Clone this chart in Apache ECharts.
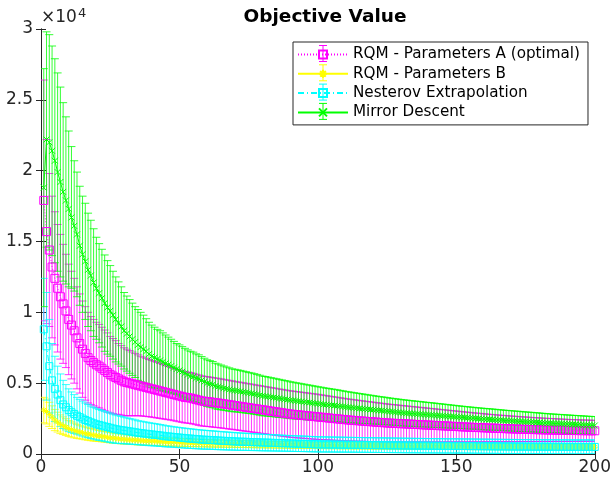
<!DOCTYPE html>
<html>
<head>
<meta charset="utf-8">
<script src="https://cdn.jsdelivr.net/npm/echarts@6/dist/echarts.min.js"></script>
<style>html,body{margin:0;padding:0;background:#fff}#chart{width:614px;height:482px}</style>
</head>
<body>
<div id="chart"></div>
<script>
// Objective value per iteration (raw values; axis shows them in units of 10^4)
const seriesNames = ['RQM - Parameters A (optimal)', 'RQM - Parameters B', 'Nesterov Extrapolation', 'Mirror Descent'];
const xTicks = [0, 50, 100, 150, 200];
const yTickLabels = ['0', '0.5', '1', '1.5', '2', '2.5', '3'];

const rqmAMean = [
17900,15700,14400,13200,12400,11700,11100,10600,10100,9500,
9100,8700,8200,7800,7400,7100,6800,6600,6450,6300,
6200,6050,5900,5750,5600,5500,5400,5300,5200,5100,
5050,5000,4950,4900,4850,4800,4750,4700,4650,4600,
4550,4500,4450,4400,4350,4300,4250,4200,4150,4100,
4050,4000,3980,3950,3900,3850,3800,3750,3720,3700,
3680,3650,3620,3600,3570,3540,3510,3480,3450,3420,
3390,3360,3330,3300,3270,3240,3210,3180,3150,3120,
3090,3060,3030,3000,2970,2940,2910,2880,2850,2820,
2800,2780,2760,2740,2720,2700,2680,2660,2640,2620,
2600,2580,2560,2540,2520,2500,2480,2460,2440,2420,
2400,2385,2370,2355,2340,2325,2310,2295,2280,2265,
2250,2235,2220,2205,2190,2180,2170,2160,2150,2140,
2130,2120,2110,2100,2090,2080,2070,2060,2050,2040,
2030,2020,2010,2000,1990,1980,1970,1960,1950,1940,
1930,1920,1910,1900,1890,1880,1870,1865,1860,1850,
1840,1830,1825,1820,1810,1800,1795,1790,1780,1775,
1770,1760,1755,1750,1745,1740,1730,1725,1720,1715,
1710,1705,1700,1695,1690,1685,1680,1675,1670,1665,
1660,1660,1655,1655,1650,1650,1645,1645,1640,1640];
const rqmAStd = [
8500,6500,5400,5000,4700,4500,4400,4200,4000,3900,
3800,3700,3600,3500,3400,3300,3200,3100,3050,3000,
2950,2900,2850,2800,2700,2650,2600,2500,2450,2400,
2350,2300,2250,2200,2150,2100,2080,2050,2020,2000,
1980,1960,1940,1920,1900,1880,1860,1850,1840,1830,
1820,1810,1800,1800,1790,1780,1780,1770,1760,1760,
1750,1750,1740,1740,1730,1730,1720,1720,1710,1710,
1700,1700,1700,1690,1690,1690,1680,1680,1680,1670,
1670,1670,1660,1660,1660,1650,1650,1650,1640,1640,
1640,1630,1630,1620,1620,1610,1610,1600,1600,1590,
1580,1570,1560,1550,1540,1530,1520,1510,1500,1490,
1480,1470,1460,1450,1440,1430,1420,1410,1400,1390,
1380,1370,1360,1350,1340,1330,1320,1310,1300,1290,
1280,1270,1260,1250,1240,1230,1220,1210,1200,1190,
1180,1170,1160,1150,1140,1130,1120,1110,1100,1090,
1080,1070,1060,1050,1040,1030,1020,1010,1000,990,
980,970,960,950,940,935,930,920,910,900,
895,890,880,870,865,860,850,845,840,830,
825,820,815,810,805,800,795,790,785,780,
775,770,765,760,755,750,750,745,740,740];

const rqmBMean = [
3100,3000,2800,2600,2400,2250,2100,2000,1900,1800,
1730,1660,1600,1550,1500,1450,1410,1370,1330,1300,
1270,1240,1210,1180,1150,1125,1100,1080,1060,1040,
1020,1005,990,975,960,950,940,930,920,910,
900,890,880,870,860,850,842,835,828,820,
814,808,802,796,790,784,778,772,766,760,
756,750,745,740,735,730,726,722,718,714,
710,706,702,698,694,690,686,682,678,674,
670,666,662,658,654,650,646,642,638,634,
630,627,624,621,618,615,612,609,606,603,
600,598,596,594,592,590,588,586,584,582,
580,578,576,574,572,570,568,566,564,562,
560,558,556,554,552,550,548,546,544,542,
540,538,536,534,532,530,528,527,526,525,
524,523,522,521,520,519,518,517,516,515,
514,513,512,511,510,509,508,507,506,505,
504,503,502,501,500,499,498,497,496,495,
494,493,492,491,490,489,488,487,486,486,
485,485,484,484,483,483,482,482,481,481,
481,480,480,480,480,479,479,479,478,478];
const rqmBStd = [
900,880,850,800,750,700,660,620,590,560,
540,520,500,480,460,450,440,430,420,400,
390,380,375,370,365,360,350,345,340,335,
330,325,320,318,315,312,310,305,300,298,
295,292,290,288,285,282,280,278,276,274,
272,270,268,266,264,262,260,258,256,255,
254,253,252,251,250,249,248,247,246,245,
244,243,242,241,240,239,238,237,236,235,
234,233,232,231,230,229,228,227,226,225,
224,223,222,221,220,220,219,219,218,218,
217,217,216,216,215,215,214,214,213,213,
212,212,211,211,210,210,209,209,208,208,
207,207,206,206,205,205,205,204,204,204,
203,203,203,202,202,202,201,201,201,200,
200,200,200,199,199,199,198,198,198,198,
197,197,197,197,196,196,196,196,195,195,
195,195,194,194,194,194,193,193,193,193,
192,192,192,192,191,191,191,191,190,190,
190,190,190,189,189,189,189,188,188,188,
188,187,187,187,187,186,186,186,186,185];

const nesterovMean = [
8800,7600,6200,5200,4600,4200,3800,3500,3300,3100,
2950,2820,2700,2600,2500,2400,2320,2240,2170,2100,
2050,2000,1950,1900,1850,1800,1750,1720,1690,1660,
1630,1600,1570,1540,1500,1480,1450,1430,1400,1380,
1360,1340,1310,1290,1250,1240,1220,1200,1180,1160,
1140,1120,1100,1090,1070,1050,1040,1020,1010,1000,
990,980,970,950,940,930,920,910,900,890,
880,870,865,860,850,840,835,830,820,810,
805,800,790,785,780,770,765,760,750,745,
740,730,725,720,715,710,700,695,690,680,
678,675,672,670,668,665,662,660,658,655,
652,650,648,645,642,640,638,635,632,630,
628,625,622,620,618,615,612,610,608,605,
602,600,598,596,594,592,590,588,586,584,
582,580,578,576,574,572,570,570,570,570,
568,566,564,562,560,558,556,554,552,550,
548,546,544,542,540,538,536,534,532,530,
528,526,524,522,520,519,518,517,516,515,
514,513,512,511,510,509,508,507,506,505,
504,503,502,502,501,501,500,500,500,500];
const nesterovStd = [
3600,3800,3300,2600,2300,2000,1850,1700,1600,1500,
1430,1370,1300,1260,1230,1200,1170,1140,1120,1100,
1090,1070,1060,1050,1040,1020,1000,980,960,940,
920,900,890,870,850,840,830,820,810,800,
790,780,770,760,750,740,730,720,715,710,
705,700,695,690,685,680,675,670,665,660,
655,650,648,645,640,636,632,628,624,620,
616,612,608,604,600,597,594,591,588,585,
582,579,576,573,570,567,564,561,558,555,
553,551,549,547,545,543,541,539,537,535,
534,533,532,531,530,529,528,527,526,525,
524,523,522,521,520,520,519,519,518,518,
517,517,516,516,515,515,514,514,513,513,
512,512,511,511,510,510,509,509,508,508,
507,507,506,506,505,505,504,504,503,503,
503,502,502,502,501,501,501,500,500,500,
500,500,499,499,499,499,498,498,498,498,
498,497,497,497,497,497,496,496,496,496,
496,495,495,495,495,495,495,494,494,494,
494,494,494,493,493,493,493,493,493,492];

const mirrorMean = [
18800,22200,22000,21400,20700,19900,19200,18500,17900,17300,
16700,16100,15500,14700,14100,13600,13000,12600,12100,11700,
11350,11000,10650,10350,10100,9800,9500,9250,9000,8700,
8500,8300,8100,7900,7700,7550,7400,7250,7050,6900,
6800,6700,6600,6500,6400,6300,6200,6100,6000,5900,
5800,5700,5600,5500,5450,5350,5300,5200,5100,5000,
4950,4900,4800,4750,4700,4650,4600,4550,4500,4480,
4450,4420,4380,4350,4310,4280,4240,4200,4150,4100,
4080,4050,4020,3990,3960,3930,3900,3870,3840,3800,
3780,3750,3730,3700,3680,3650,3630,3600,3580,3550,
3530,3500,3480,3460,3440,3420,3400,3370,3350,3320,
3300,3280,3260,3240,3220,3200,3180,3160,3140,3120,
3100,3080,3060,3040,3020,3000,2980,2960,2940,2920,
2900,2885,2870,2855,2840,2825,2810,2795,2780,2765,
2750,2735,2720,2705,2690,2675,2660,2645,2630,2615,
2600,2585,2570,2555,2540,2525,2510,2495,2480,2465,
2450,2440,2430,2415,2400,2390,2375,2360,2350,2335,
2320,2310,2300,2285,2270,2260,2250,2240,2230,2215,
2200,2190,2180,2170,2160,2150,2140,2130,2120,2110,
2100,2090,2080,2070,2060,2050,2040,2030,2020,2010];
const mirrorStd = [
8400,7600,7600,7400,7200,7000,6700,6300,5900,5500,
5000,4600,4400,4200,4100,4100,4000,3900,3800,3600,
3500,3450,3400,3300,3200,3100,3000,2900,2800,2700,
2650,2600,2550,2500,2500,2450,2400,2300,2250,2200,
2150,2100,2100,2050,2000,1950,1900,1850,1800,1800,
1780,1760,1750,1750,1740,1720,1700,1680,1660,1650,
1640,1630,1610,1600,1580,1560,1540,1530,1510,1500,
1490,1480,1470,1460,1450,1440,1430,1420,1410,1400,
1390,1380,1370,1360,1350,1340,1330,1320,1310,1300,
1290,1280,1270,1260,1250,1240,1230,1220,1210,1200,
1190,1180,1170,1160,1150,1140,1130,1120,1110,1100,
1090,1080,1070,1060,1050,1040,1030,1020,1010,1000,
990,980,975,970,960,950,945,940,935,930,
925,920,910,905,900,895,890,880,875,870,
865,860,850,845,840,830,825,815,810,800,
795,790,785,780,775,770,765,760,760,755,
755,750,745,740,735,730,725,720,720,715,
715,710,705,700,700,695,690,685,680,680,
675,670,665,660,660,655,655,650,650,645,
645,640,640,640,635,635,630,630,630,630];

// iteration index 1..N
const iterations = rqmAMean.map((_, i) => i + 1);

const chart = echarts.init(document.getElementById('chart'), null, {renderer: 'canvas'});

const FONT = 'DejaVu Sans';
const AXC = '#262626';

function errRender(color) {
  return function (params, api) {
    const x = api.value(0), lo = api.value(1), hi = api.value(2);
    const p1 = api.coord([x, lo]), p2 = api.coord([x, hi]);
    const w = 4;
    const st = {stroke: color, lineWidth: 0.8, fill: null};
    return {
      type: 'group',
      children: [
        {type: 'line', shape: {x1: p1[0], y1: p1[1], x2: p2[0], y2: p2[1]}, style: st},
        {type: 'line', shape: {x1: p1[0] - w, y1: p1[1], x2: p1[0] + w, y2: p1[1]}, style: st},
        {type: 'line', shape: {x1: p2[0] - w, y1: p2[1], x2: p2[0] + w, y2: p2[1]}, style: st}
      ]
    };
  };
}

const specs = [
  {name: seriesNames[0], mean: rqmAMean, std: rqmAStd, color: '#ff00ff', symbol: 'rect', size: 8, line: [1, 2]},
  {name: seriesNames[1], mean: rqmBMean, std: rqmBStd, color: '#ffff00', symbol: 'path://M5,0L5,10M0,5L10,5M1.5,1.5L8.5,8.5M8.5,1.5L1.5,8.5', size: 6, line: 'solid'},
  {name: seriesNames[2], mean: nesterovMean, std: nesterovStd, color: '#00ffff', symbol: 'rect', size: 7, line: [6, 3, 1, 3]},
  {name: seriesNames[3], mean: mirrorMean, std: mirrorStd, color: '#00ff00', symbol: 'path://M0,0L10,10M10,0L0,10', size: 6, line: 'solid'}
];

const series = [];
specs.forEach(s => {
  series.push({
    type: 'custom',
    name: s.name + ' err',
    renderItem: errRender(s.color),
    data: iterations.map((x, i) => [x, s.mean[i] - s.std[i], s.mean[i] + s.std[i]]),
    encode: {x: 0, y: [1, 2]},
    clip: true,
    silent: true,
    animation: false
  });
  series.push({
    type: 'line',
    name: s.name,
    data: iterations.map((x, i) => [x, s.mean[i]]),
    symbol: s.symbol,
    symbolSize: s.size,
    showAllSymbol: true,
    lineStyle: {color: s.color, width: 1, type: s.line},
    itemStyle: {color: 'rgba(0,0,0,0)', borderColor: s.color, borderWidth: 1},
    emphasis: {disabled: true},
    animation: false,
    clip: true
  });
});

// legend layout
const LEG_LEFT = 293, LEG_TOP = 42, LEG_PAD_T = 5, LEG_PAD_L = 4, ICON_W = 50, ICON_H = 10, ROW = 19.3;
const legendBeams = [];
specs.forEach((s, i) => {
  const cx = LEG_LEFT + LEG_PAD_L + ICON_W / 2 + 1;
  const cy = LEG_TOP + LEG_PAD_T + 6.5 + i * ROW;
  const st = {stroke: s.color, lineWidth: 1};
  legendBeams.push({type: 'line', z: 200, silent: true, shape: {x1: cx, y1: cy - 8, x2: cx, y2: cy + 8}, style: st});
  legendBeams.push({type: 'line', z: 200, silent: true, shape: {x1: cx - 4, y1: cy - 8, x2: cx + 4, y2: cy - 8}, style: st});
  legendBeams.push({type: 'line', z: 200, silent: true, shape: {x1: cx - 4, y1: cy + 8, x2: cx + 4, y2: cy + 8}, style: st});
});

const option = {
  backgroundColor: '#ffffff',
  animation: false,
  title: {
    text: 'Objective Value',
    left: 320, top: 3, textAlign: 'center',
    textStyle: {fontFamily: FONT, fontSize: 18.5, fontWeight: 'bold', color: '#000'}
  },
  legend: {
    data: seriesNames,
    orient: 'vertical',
    left: LEG_LEFT, top: LEG_TOP,
    padding: [LEG_PAD_T, 8, 5, LEG_PAD_L],
    itemWidth: ICON_W, itemHeight: ICON_H, itemGap: 4.3,
    backgroundColor: '#fff',
    borderColor: AXC, borderWidth: 1,
    textStyle: {fontFamily: FONT, fontSize: 15.2, lineHeight: 14, color: '#000'}
  },
  grid: {left: 41, right: 14, top: 29, bottom: 28, containLabel: false},
  xAxis: [{
    type: 'value', min: xTicks[0], max: xTicks[xTicks.length - 1], interval: 50,
    axisLine: {lineStyle: {color: AXC}},
    axisTick: {inside: true, length: 5, lineStyle: {color: AXC}},
    axisLabel: {fontFamily: FONT, fontSize: 17, color: AXC, margin: 5},
    splitLine: {show: false}
  }, {
    type: 'value', position: 'top', min: 0, max: 200, interval: 50,
    axisLine: {show: true, lineStyle: {color: AXC}},
    axisTick: {inside: true, length: 5, lineStyle: {color: AXC}},
    axisLabel: {show: false}, splitLine: {show: false}
  }],
  yAxis: [{
    type: 'value', min: 0, max: 30000, interval: 5000,
    axisLine: {show: true, lineStyle: {color: AXC}},
    axisTick: {show: true, inside: true, length: 5, lineStyle: {color: AXC}},
    axisLabel: {fontFamily: FONT, fontSize: 17, color: AXC, margin: 8,
      formatter: (v) => yTickLabels[Math.round(v / 5000)]},
    splitLine: {show: false}
  }, {
    type: 'value', position: 'right', min: 0, max: 30000, interval: 5000,
    axisLine: {show: true, lineStyle: {color: AXC}},
    axisTick: {show: true, inside: true, length: 5, lineStyle: {color: AXC}},
    axisLabel: {show: false}, splitLine: {show: false}
  }],
  graphic: [{
    type: 'text', left: 41, top: 7,
    style: {
      text: '×10{s|4}',
      rich: {s: {fontSize: 13, fontFamily: FONT, fill: AXC, verticalAlign: 'top', padding: [0, 0, 9, 1]}},
      fontFamily: FONT, fontSize: 17, fill: AXC
    }
  }].concat(legendBeams),
  series: series
};
chart.setOption(option);
</script>
</body>
</html>
